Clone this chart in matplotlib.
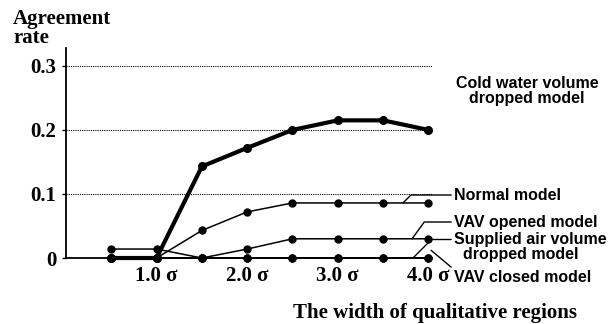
import matplotlib
matplotlib.use("Agg")
import matplotlib.pyplot as plt

# width of qualitative regions (in sigma)
widths = [0.5, 1.0, 1.5, 2.0, 2.5, 3.0, 3.5, 4.0]

# agreement rate for each fault model
cold_water = [0.0, 0.0, 0.143, 0.172, 0.200, 0.215, 0.215, 0.200]
normal = [0.0, 0.0, 0.043, 0.072, 0.086, 0.086, 0.086, 0.086]
vav_opened = [0.014, 0.014, 0.0, 0.014, 0.030, 0.030, 0.030, 0.030]
supplied_air = [0.0, 0.0, 0.0, 0.0, 0.0, 0.0, 0.0, 0.0]
vav_closed = [0.0, 0.0, 0.0, 0.0, 0.0, 0.0, 0.0, 0.0]

y_ticks = [0, 0.1, 0.2, 0.3]
y_tick_labels = ["0", "0.1", "0.2", "0.3"]
x_ticks = [1.0, 2.0, 3.0, 4.0]
x_tick_labels = ["1.0 σ", "2.0 σ", "3.0 σ", "4.0 σ"]

W, H = 612, 324
fig = plt.figure(figsize=(W / 100, H / 100), dpi=100)
ax = fig.add_axes([66 / W, 1 - 258 / H, 366 / W, 210 / H])

serif = {"family": "Liberation Serif", "weight": "bold"}
sans = {"family": "Liberation Sans", "weight": "bold", "size": 11.5}

# thin series first, thick one on top
for series in [vav_closed, supplied_air, vav_opened, normal]:
    ax.plot(widths, series, color="black", lw=1.1, marker="o", ms=5, clip_on=False, zorder=3)
ax.plot(widths, cold_water, color="black", lw=3, marker="o", ms=5.5, clip_on=False, zorder=4)

ax.set_xlim(0, 4.04)
ax.set_ylim(0, 0.328)

ax.spines["top"].set_visible(False)
ax.spines["right"].set_visible(False)
ax.spines["left"].set_linewidth(1.3)
ax.spines["bottom"].set_linewidth(1.3)

ax.set_yticks(y_ticks)
ax.set_yticklabels(y_tick_labels, fontdict=serif, fontsize=15)
ax.set_xticks(x_ticks)
ax.set_xticklabels(x_tick_labels, fontdict=serif, fontsize=15)
ax.tick_params(axis="y", length=3, width=1, pad=4)
ax.tick_params(axis="x", length=0, pad=6)
ax.yaxis.grid(True, linestyle=(0, (1, 1)), lw=0.8, color="black")
ax.set_axisbelow(True)

fig.text(13 / W, 1 - 9 / H, "Agreement\nrate", ha="left", va="top",
         linespacing=0.95, fontsize=15, **serif)
fig.text(435 / W, 1 - 313 / H, "The width of qualitative regions", ha="center",
         va="center", fontsize=15, **serif)
fig.text(527 / W, 1 - 91 / H, "Cold water volume\ndropped model", ha="center",
         va="center", linespacing=1.05, **sans)

line = dict(arrowstyle="-", color="black", lw=1, shrinkA=0, shrinkB=0)

ax.annotate("Normal model", xy=(3.72, normal[-1]), xytext=(454, H - 195),
            textcoords="figure pixels", ha="left", va="center", **sans,
            arrowprops=dict(line, connectionstyle="angle,angleA=0,angleB=45,rad=0"))
ax.annotate("VAV opened model", xy=(3.82, vav_opened[-1]), xytext=(454, H - 222),
            textcoords="figure pixels", ha="left", va="center", **sans,
            arrowprops=dict(line, connectionstyle="angle,angleA=0,angleB=54,rad=0"))
ax.annotate("Supplied air volume\n  dropped model", xy=(3.83, supplied_air[-1]),
            xytext=(454, H - 247), textcoords="figure pixels", ha="left", va="center",
            linespacing=1.0, **sans,
            arrowprops=dict(line, relpos=(0, 0.75),
                            connectionstyle="angle,angleA=0,angleB=45,rad=0"))
ax.annotate("VAV closed model", xy=(4.03, vav_closed[-1] + 0.012), xytext=(454, H - 277),
            textcoords="figure pixels", ha="left", va="center", **sans,
            arrowprops=dict(line, relpos=(0, 1)))

fig.savefig("out.png", dpi=100)
